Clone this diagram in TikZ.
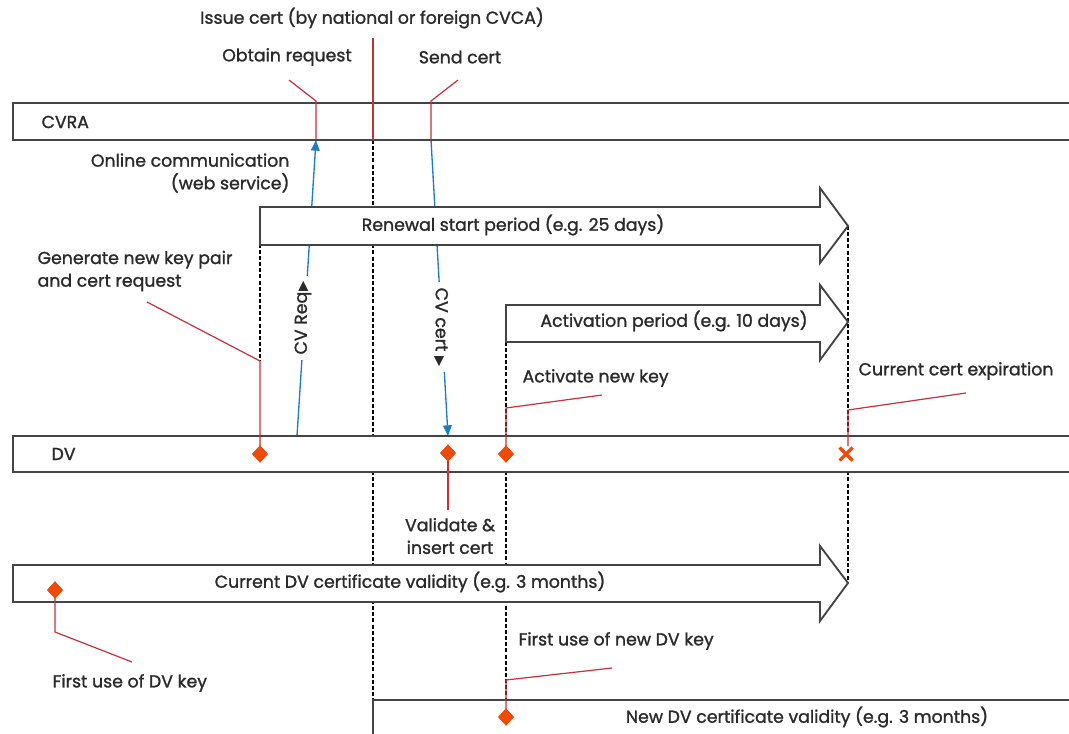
\documentclass[tikz,border=0pt]{standalone}
\usepackage{fontspec}
\setmainfont{Poppins}[FakeBold=1.3]
\newfontfamily\symfont{DejaVu Sans}
\usetikzlibrary{arrows.meta,shapes.geometric}
\definecolor{leader}{HTML}{C8303A}
\definecolor{keymk}{HTML}{F04A0A}
\definecolor{commblue}{HTML}{1E7BC4}
\definecolor{bargray}{HTML}{444444}
\definecolor{txt}{HTML}{2A2A2A}
\begin{document}
\begin{tikzpicture}[x=0.75pt,y=-0.75pt,
  font=\fontsize{13}{17}\selectfont,
  lbl/.style={text=txt, inner sep=1pt},
  barbox/.style={draw=bargray, line width=1.4pt, fill=white},
  vdash/.style={draw=black, line width=1.1pt, dash pattern=on 3pt off 1.6pt},
  leaderline/.style={draw=leader, line width=0.9pt},
  comm/.style={draw=commblue, line width=1pt, -{Triangle[length=8pt,width=6.5pt]}},
  keymark/.style={diamond, fill=keymk, inner sep=0pt, minimum width=12pt, minimum height=13pt},
]
\useasboundingbox (0,0) rectangle (1069,734);

% points
\coordinate (cvraObt) at (316,140);
\coordinate (cvraSend) at (431,140);
\coordinate (dvReq) at (297,436);
\coordinate (dvCert) at (448,436);

% dashed guide lines
\draw[vdash] (373,140) -- (373,700);
\draw[vdash] (260,207) -- (260,361);
\draw[vdash] (506,305) -- (506,717);
\draw[vdash] (848,226) -- (848,583);

% communication arrows
\draw[comm] (dvReq) -- (cvraObt);
\draw[comm] (cvraSend) -- (dvCert);
\node[lbl, rotate=90, fill=white, inner sep=4pt] (cvreq) at (303,318) {CV Req{\symfont\fontsize{10}{10}\selectfont ▶}};
\node[lbl, rotate=-90, fill=white, inner sep=4pt] (cvcert) at (441,327) {CV cert {\symfont\fontsize{10}{10}\selectfont ▶}};

% bars
\draw[barbox] (13,103) rectangle (1080,140);
\node[lbl, anchor=west] (cvra) at (40,122) {CVRA};
\draw[barbox] (13,436) rectangle (1080,472);
\node[lbl, anchor=west] (dv) at (50,454) {DV};

% period arrows
\draw[barbox] (260,207) -- (820,207) -- (820,188) -- (848,226) -- (820,263) -- (820,245) -- (260,245) -- cycle;
\node[lbl] (renew) at (513,225) {Renewal start period (e.g. 25 days)};
\draw[barbox] (506,305) -- (820,305) -- (820,285) -- (848,322) -- (820,360) -- (820,342) -- (506,342) -- cycle;
\node[lbl] (activ) at (674,321) {Activation period (e.g. 10 days)};
\draw[barbox] (13,565) -- (820,565) -- (820,546) -- (848,583) -- (820,621) -- (820,602) -- (13,602) -- cycle;
\node[lbl] (curval) at (410,582) {Current DV certificate validity (e.g. 3 months)};
\draw[barbox] (1080,700) -- (373,700) -- (373,740);
\node[lbl] (newval) at (807,717) {New DV certificate validity (e.g. 3 months)};

% labels
\node[lbl] (issue) at (372,18) {Issue cert (by national or foreign CVCA)};
\node[lbl] (obtain) at (287,57) {Obtain request};
\node[lbl] (send) at (460,57) {Send cert};
\node[lbl, anchor=east, align=right] (online) at (291,173) {Online communication\\(web service)};
\node[lbl, anchor=west, align=left] (gen) at (36,271) {Generate new key pair\\and cert request};
\node[lbl, anchor=west] (actkey) at (521,378) {Activate new key};
\node[lbl, anchor=west] (expir) at (857,371) {Current cert expiration};
\node[lbl, align=center] (valid) at (450,536) {Validate \&\\insert cert};
\node[lbl, anchor=west] (firstuse) at (51,683) {First use of DV key};
\node[lbl, anchor=west] (firstnew) at (517,641) {First use of new DV key};

% markers
\node[keymark] (mGen) at (260,454) {};
\node[keymark] (mIns) at (448,453) {};
\node[keymark] (mAct) at (506,454) {};
\node[keymark] (mFirst) at (55,590) {};
\node[keymark] (mNew) at (506,717) {};
\coordinate (mExp) at (846,454);
\draw[keymk, line width=2.4pt] ([shift={(-6.5,-6.5)}]mExp) -- ([shift={(6.5,6.5)}]mExp)
  ([shift={(-6.5,6.5)}]mExp) -- ([shift={(6.5,-6.5)}]mExp);

% leaders
\draw[leaderline] (373,38) -- (373,140);
\draw[leaderline] (289,80) -- (316,101) -- (cvraObt);
\draw[leaderline] (458,80) -- (431,101) -- (cvraSend);
\draw[leaderline] (147,302) -- (260,361) -- (mGen.center);
\draw[leaderline] (602,395) -- (506,408) -- (mAct.center);
\draw[leaderline] (966,393) -- (848,410) -- (848,446);
\draw[leaderline] (mIns.center) -- (448,510);
\draw[leaderline] (mFirst.center) -- (55,632) -- (132,662);
\draw[leaderline] (612,668) -- (506,680) -- (mNew.center);
\node[keymark] at (mGen) {};
\node[keymark] at (mIns) {};
\node[keymark] at (mAct) {};
\node[keymark] at (mFirst) {};
\node[keymark] at (mNew) {};
\end{tikzpicture}
\end{document}
